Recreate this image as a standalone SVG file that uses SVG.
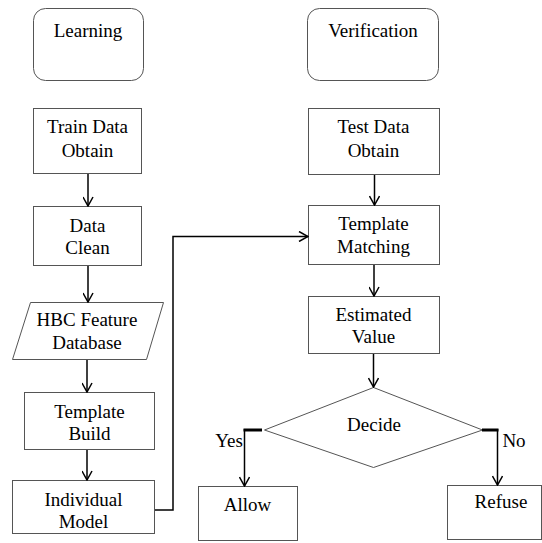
<svg xmlns="http://www.w3.org/2000/svg" width="542" height="543" viewBox="0 0 542 543">
<style>
.box{fill:#fff;stroke:#555;stroke-width:1}
.t{font-family:"Liberation Serif","Times New Roman",serif;font-size:19px;fill:#000;text-anchor:middle}
.c{fill:none;stroke:#000;stroke-width:1.5}
.stub{fill:none;stroke:#000;stroke-width:3}
</style>
<defs>
<marker id="arr" viewBox="0 0 11 11" refX="10" refY="5.5" markerWidth="11" markerHeight="11" markerUnits="userSpaceOnUse" orient="auto">
<path d="M1,0.5 L10,5.5 L1,10.5" fill="none" stroke="#000" stroke-width="1.5"/>
</marker>
</defs>
<rect width="542" height="543" fill="#fff"/>
<g id="learning"><rect class="box" x="33.5" y="8.5" width="110" height="72" rx="12"/><text class="t" x="88" y="37">Learning</text></g>
<g id="verification"><rect class="box" x="307.5" y="8.5" width="131" height="72" rx="12"/><text class="t" x="373" y="37">Verification</text></g>
<g id="train-data"><rect class="box" x="33.5" y="108.5" width="108" height="65"/><text class="t" x="87.5" y="133">Train Data</text><text class="t" x="87.5" y="157">Obtain</text></g>
<g id="data-clean"><rect class="box" x="33.5" y="206.5" width="108" height="59"/><text class="t" x="87.5" y="232">Data</text><text class="t" x="87.5" y="254">Clean</text></g>
<g id="hbc-db"><polygon class="box" points="30.5,302.5 163.5,302.5 146.5,359.5 12.5,359.5"/><text class="t" x="87" y="326">HBC Feature</text><text class="t" x="87" y="349">Database</text></g>
<g id="template-build"><rect class="box" x="24.5" y="392.5" width="130" height="57"/><text class="t" x="89.5" y="418">Template</text><text class="t" x="89.5" y="440">Build</text></g>
<g id="individual-model"><rect class="box" x="12.5" y="480.5" width="142" height="53"/><text class="t" x="83.5" y="506">Individual</text><text class="t" x="83.5" y="528">Model</text></g>
<g id="test-data"><rect class="box" x="308.5" y="108.5" width="131" height="66"/><text class="t" x="373.5" y="133">Test Data</text><text class="t" x="373.5" y="157">Obtain</text></g>
<g id="template-matching"><rect class="box" x="308.5" y="205.5" width="131" height="59"/><text class="t" x="373.5" y="230">Template</text><text class="t" x="373.5" y="253">Matching</text></g>
<g id="estimated-value"><rect class="box" x="308.5" y="296.5" width="131" height="57"/><text class="t" x="373.5" y="321">Estimated</text><text class="t" x="373.5" y="343">Value</text></g>
<g id="decide"><polygon class="box" points="373.5,387.5 482.5,430 373.5,467.5 264.5,430"/><text class="t" x="374" y="431">Decide</text></g>
<g id="allow"><rect class="box" x="198.5" y="486.5" width="99" height="54"/><text class="t" x="247.5" y="511">Allow</text></g>
<g id="refuse"><rect class="box" x="447.5" y="485.5" width="94" height="54"/><text class="t" x="501" y="508">Refuse</text></g>
<g id="connectors">
<line class="c" x1="88" y1="174" x2="88" y2="206" marker-end="url(#arr)"/>
<line class="c" x1="88" y1="266" x2="88" y2="302" marker-end="url(#arr)"/>
<line class="c" x1="87" y1="360" x2="87" y2="392" marker-end="url(#arr)"/>
<line class="c" x1="87" y1="450" x2="87" y2="480" marker-end="url(#arr)"/>
<polyline class="c" points="155,510 173,510 173,236.5 308,236.5" marker-end="url(#arr)"/>
<line class="c" x1="374.5" y1="175" x2="374.5" y2="205" marker-end="url(#arr)"/>
<line class="c" x1="374" y1="265" x2="374" y2="296" marker-end="url(#arr)"/>
<line class="c" x1="373.5" y1="354" x2="373.5" y2="387" marker-end="url(#arr)"/>
<line class="stub" x1="262" y1="430" x2="243.5" y2="430"/>
<line class="c" x1="244.5" y1="429" x2="244.5" y2="486" marker-end="url(#arr)"/>
<line class="stub" x1="482" y1="430" x2="498.5" y2="430"/>
<line class="c" x1="497.5" y1="429" x2="497.5" y2="485" marker-end="url(#arr)"/>
<text class="t" x="229" y="447">Yes</text>
<text class="t" x="514" y="447">No</text>
</g>
</svg>
